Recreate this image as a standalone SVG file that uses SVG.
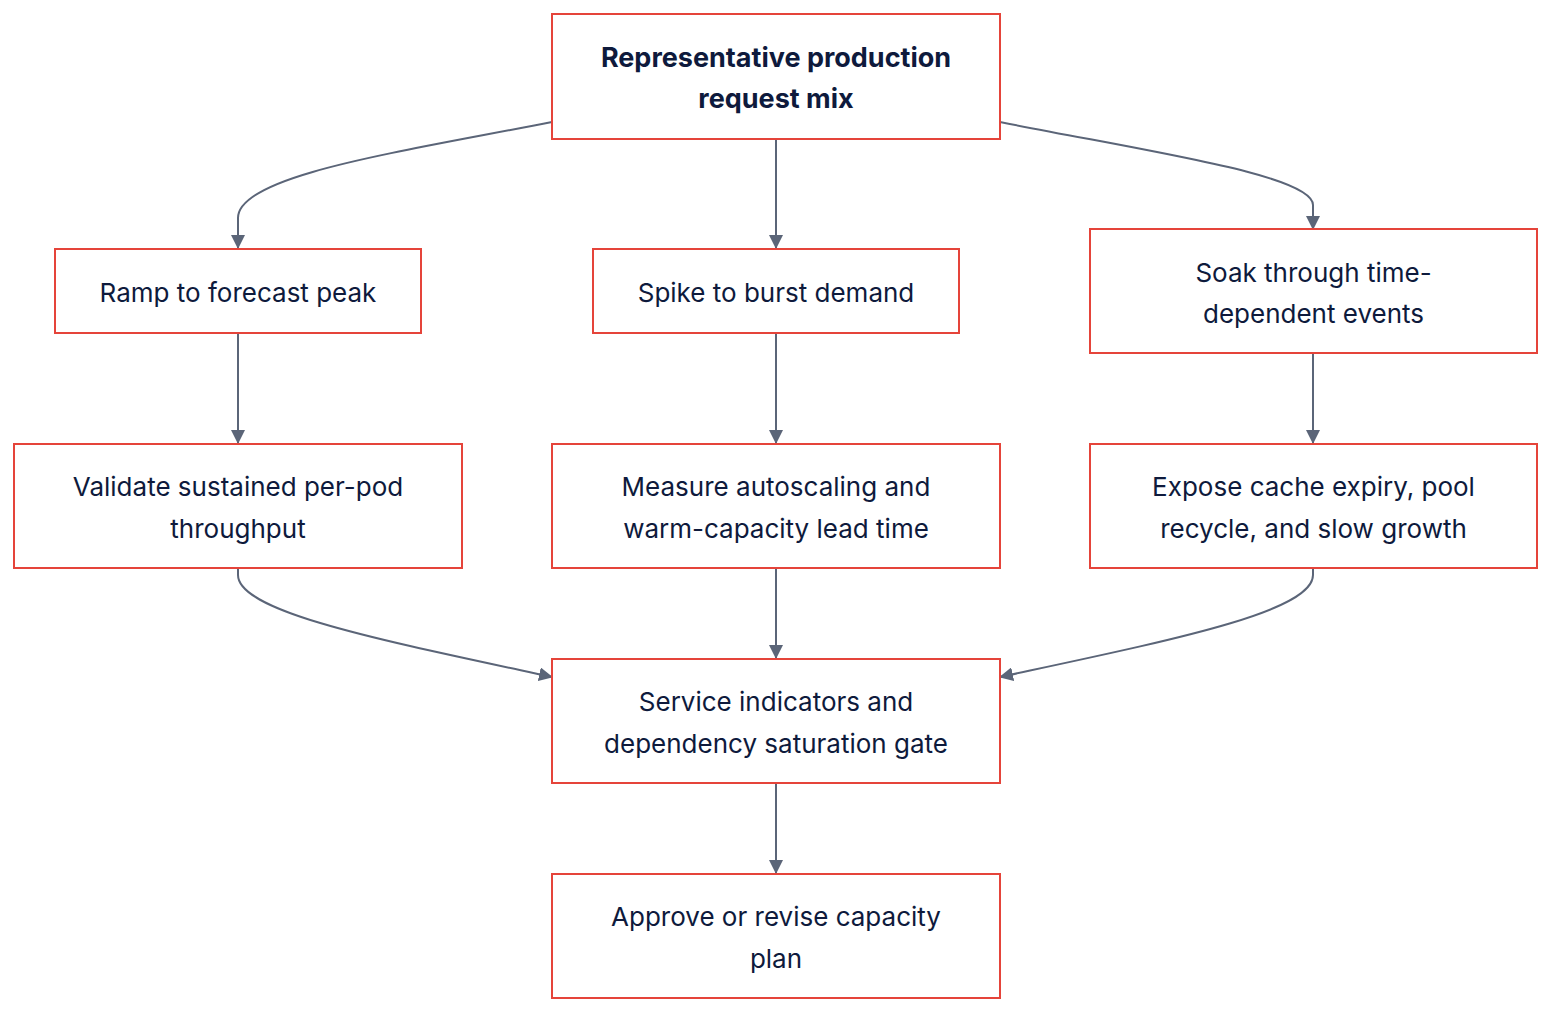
<svg xmlns="http://www.w3.org/2000/svg" width="1568" height="1024" viewBox="0 0 1568 1024">
<defs>
<style>
.node rect{fill:#ffffff;stroke:#e5443a;stroke-width:2}
.node text{font-family:Inter,"Noto Sans","Liberation Sans",sans-serif;font-size:26px;fill:#0e1a3c;text-anchor:middle}
.node text.b{font-weight:700;font-size:27px}
.edges path{fill:none;stroke:#5b6578;stroke-width:2}
</style>
<marker id="ah" markerUnits="userSpaceOnUse" markerWidth="14" markerHeight="14" viewBox="0 0 14 14" refX="13" refY="7" orient="auto">
<path d="M0,0 L14,7 L0,14 Z" fill="#5b6578"/>
</marker>
</defs>
<rect width="1568" height="1024" fill="#ffffff"/>
<g class="edges">
<path d="M552,122 C400,152 238,175 238,218 L238,248" marker-end="url(#ah)"/>
<path d="M776,139 L776,248" marker-end="url(#ah)"/>
<path d="M1000,122 C1150,152 1313,175 1313,205 L1313,229" marker-end="url(#ah)"/>
<path d="M238,333 L238,443" marker-end="url(#ah)"/>
<path d="M776,333 L776,443" marker-end="url(#ah)"/>
<path d="M1313,353 L1313,443" marker-end="url(#ah)"/>
<path d="M238,568 L238,575 C238,612 380,640 552,677" marker-end="url(#ah)"/>
<path d="M776,568 L776,658" marker-end="url(#ah)"/>
<path d="M1313,568 L1313,575 C1313,612 1172,640 1000,677" marker-end="url(#ah)"/>
<path d="M776,783 L776,873" marker-end="url(#ah)"/>
</g>
<g id="n-mix" class="node">
<rect x="552" y="14" width="448" height="125"/>
<text class="b" x="776" y="67">Representative production</text>
<text class="b" x="776" y="108">request mix</text>
</g>
<g id="n-ramp" class="node">
<rect x="55" y="249" width="366" height="84"/>
<text x="238" y="302">Ramp to forecast peak</text>
</g>
<g id="n-spike" class="node">
<rect x="593" y="249" width="366" height="84"/>
<text x="776" y="302">Spike to burst demand</text>
</g>
<g id="n-soak" class="node">
<rect x="1090" y="229" width="447" height="124"/>
<text x="1313.5" y="282">Soak through time-</text>
<text x="1313.5" y="323">dependent events</text>
</g>
<g id="n-validate" class="node">
<rect x="14" y="444" width="448" height="124"/>
<text x="238" y="496">Validate sustained per-pod</text>
<text x="238" y="538">throughput</text>
</g>
<g id="n-measure" class="node">
<rect x="552" y="444" width="448" height="124"/>
<text x="776" y="496">Measure autoscaling and</text>
<text x="776" y="538">warm-capacity lead time</text>
</g>
<g id="n-expose" class="node">
<rect x="1090" y="444" width="447" height="124"/>
<text x="1313.5" y="496">Expose cache expiry, pool</text>
<text x="1313.5" y="538">recycle, and slow growth</text>
</g>
<g id="n-service" class="node">
<rect x="552" y="659" width="448" height="124"/>
<text x="776" y="711">Service indicators and</text>
<text x="776" y="753">dependency saturation gate</text>
</g>
<g id="n-approve" class="node">
<rect x="552" y="874" width="448" height="124"/>
<text x="776" y="926">Approve or revise capacity</text>
<text x="776" y="968">plan</text>
</g>
</svg>
